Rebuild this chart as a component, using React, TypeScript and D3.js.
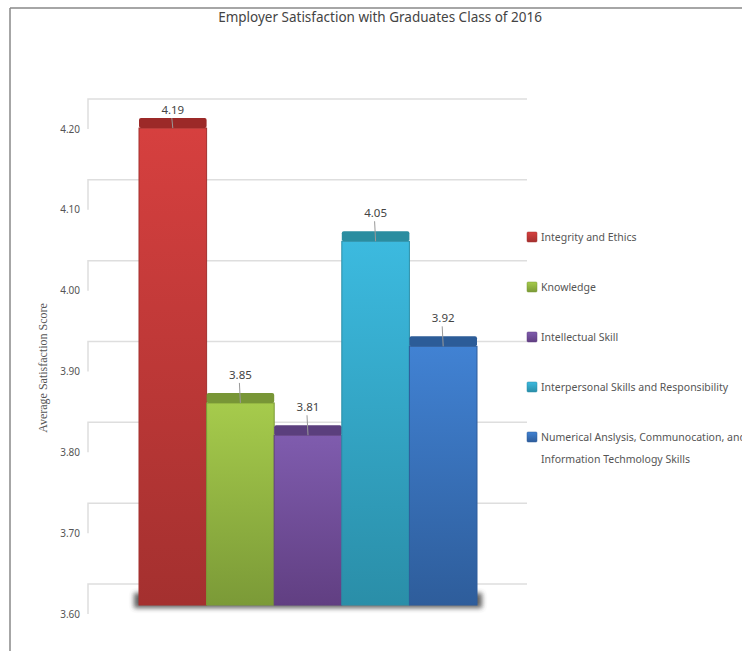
import React from 'react';
import { scaleBand, scaleLinear, format } from 'd3';

const categories = [
  'Integrity and Ethics',
  'Knowledge',
  'Intellectual Skill',
  'Interpersonal Skills and Responsibility',
  'Numerical Anslysis, Communocation, and Information Techmology Skills',
];
const legendLines = [
  ['Integrity and Ethics'],
  ['Knowledge'],
  ['Intellectual Skill'],
  ['Interpersonal Skills and Responsibility'],
  ['Numerical Anslysis, Communocation, and', 'Information Techmology Skills'],
];
const scores = [4.19, 3.85, 3.81, 4.05, 3.92];
const yDomain: [number, number] = [3.6, 4.2];

// light, dark, cap colours per bar
const barLight = ['#d6403f', '#a6cb4c', '#7f5cae', '#3cbadf', '#4182d3'];
const barDark = ['#a4302f', '#7b9a37', '#613f82', '#2a8ea8', '#2e5d9b'];
const capColors = ['#9c2928', '#789636', '#5b3f7d', '#2a8da0', '#2c5c98'];

const W = 742;
const H = 651;
const FONT = "'Noto Sans', sans-serif";

const App: React.FC = () => {
  const x = scaleBand<string>().domain(categories).range([139, 477]).padding(0);
  const y = scaleLinear().domain(yDomain).range([605, 120]);
  const ticks = y.ticks(6);
  const fmt = format('.2f');
  const depth = 21;
  const cap = 10;

  return (
    <svg
      width={W}
      height={H}
      style={{ position: 'absolute', left: 0, top: 0, background: '#fff' }}
    >
      <defs>
        {barLight.map((c, i) => (
          <linearGradient key={i} id={`g${i}`} x1="0" y1="0" x2="0" y2="1">
            <stop offset="0%" stopColor={c} />
            <stop offset="100%" stopColor={barDark[i]} />
          </linearGradient>
        ))}
        <filter id="shadow" x="-10%" y="-200%" width="120%" height="500%">
          <feGaussianBlur stdDeviation="2.5" />
        </filter>
      </defs>

      {/* frame */}
      <line x1={10} x2={W} y1={8} y2={8} stroke="#888" strokeWidth={1.5} />
      <line x1={10} x2={10} y1={8} y2={H} stroke="#888" strokeWidth={1.5} />

      <text
        x={380}
        y={22}
        textAnchor="middle"
        fontFamily={FONT}
        fontSize={13.5}
        fill="#444"
      >
        Employer Satisfaction with Graduates Class of 2016
      </text>

      {/* grid on back wall */}
      {ticks.map((t) => (
        <g key={t}>
          <polyline
            points={`88,${y(t) + 9} 88,${y(t) - depth} 527,${y(t) - depth}`}
            fill="none"
            stroke="#dedede"
            strokeWidth={1.5}
          />
          <text
            x={80}
            y={y(t) + 9}
            dy="0.35em"
            textAnchor="end"
            fontFamily={FONT}
            fontSize={10}
            fill="#555"
          >
            {fmt(t)}
          </text>
        </g>
      ))}

      <text
        transform={`translate(47, 368) rotate(-90)`}
        textAnchor="middle"
        fontFamily="'Liberation Serif', serif"
        fontSize={12}
        fill="#555"
      >
        Average Satisfaction Score
      </text>

      {/* floor shadow */}
      <rect
        x={(x(categories[0]) ?? 0) - 5}
        y={y(yDomain[0]) - 12}
        width={x.bandwidth() * categories.length + 10}
        height={15}
        fill="#444"
        opacity={0.85}
        filter="url(#shadow)"
      />

      {/* bars */}
      {categories.map((c, i) => {
        const bx = x(c) ?? 0;
        const top = y(scores[i]);
        const cx = bx + x.bandwidth() / 2;
        const labelY = Math.max(110, top - 28);
        return (
          <g key={c}>
            <rect
              x={bx}
              y={top}
              width={x.bandwidth()}
              height={y(yDomain[0]) - top}
              fill={`url(#g${i})`}
              stroke={barDark[i]}
              strokeWidth={1}
            />
            <rect
              x={bx}
              y={top - cap}
              width={x.bandwidth()}
              height={cap}
              rx={2}
              fill={capColors[i]}
            />
            <line
              x1={cx - 1}
              y1={labelY + 8}
              x2={cx}
              y2={top}
              stroke="#999"
              strokeWidth={1}
            />
            <text
              x={cx}
              y={labelY}
              dy="0.35em"
              textAnchor="middle"
              fontFamily={FONT}
              fontSize={11.5}
              fill="#444"
            >
              {fmt(scores[i])}
            </text>
          </g>
        );
      })}

      {/* legend */}
      {legendLines.map((lines, i) => {
        const ly = 237 + i * 50;
        return (
          <g key={i}>
            <rect
              x={527}
              y={ly - 5}
              width={10}
              height={10}
              rx={1}
              fill={`url(#g${i})`}
              stroke={barDark[i]}
              strokeWidth={0.5}
            />
            {lines.map((l, j) => (
              <text
                key={j}
                x={541}
                y={ly + j * 22}
                dy="0.35em"
                fontFamily={FONT}
                fontSize={10.5}
                fill="#555"
              >
                {l}
              </text>
            ))}
          </g>
        );
      })}
    </svg>
  );
};

export default App;
